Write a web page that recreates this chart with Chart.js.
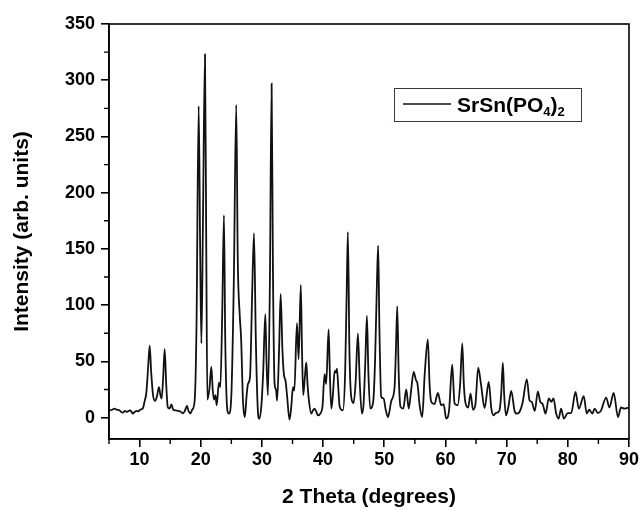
<!DOCTYPE html>
<html>
<head>
<meta charset="utf-8">
<script src="https://cdn.jsdelivr.net/npm/chart.js@4"></script>
<style>
  html, body { margin: 0; padding: 0; background: #fff; }
  #wrap { width: 641px; height: 510px; }
</style>
</head>
<body>
<div id="wrap"><canvas id="chart" width="641" height="510"></canvas></div>
<script>
// diffraction pattern
const twoTheta = [
  5.1, 5.5, 5.9, 6.3, 6.7, 7.0, 7.3, 7.6, 7.9, 8.2, 8.45, 8.7, 8.9, 9.2, 9.5, 9.8, 10.1, 10.56, 10.8, 11.1,
  11.4, 11.65, 11.9, 12.2, 12.5, 12.8, 13.17, 13.4, 13.6, 13.85, 14.1, 14.35, 14.6, 14.9, 15.2, 15.5, 15.9, 16.3, 16.7, 17.1,
  17.4, 17.75, 18.0, 18.3, 18.6, 19.0, 19.3, 19.66, 19.9, 20.1, 20.35, 20.69, 20.9, 21.08, 21.4, 21.73, 21.95, 22.16, 22.4, 22.6,
  22.97, 23.2, 23.5, 23.79, 24.0, 24.35, 24.6, 25.0, 25.4, 25.8, 26.05, 26.36, 26.6, 26.9, 27.2, 27.5, 27.72, 28.05, 28.4, 28.7,
  29.0, 29.3, 29.55, 29.9, 30.2, 30.55, 30.75, 30.98, 31.3, 31.58, 31.8, 32.07, 32.3, 32.48, 32.8, 33.06, 33.35, 33.6, 33.85, 34.1,
  34.5, 34.8, 35.07, 35.3, 35.72, 36.0, 36.35, 36.55, 36.75, 37.0, 37.25, 37.45, 37.68, 38.07, 38.3, 38.6, 38.9, 39.15, 39.6, 39.9,
  40.24, 40.5, 40.9, 41.1, 41.34, 41.6, 41.88, 42.1, 42.26, 42.5, 42.7, 43.24, 43.6, 43.85, 44.05, 44.3, 44.6, 44.97, 45.3, 45.69,
  46.0, 46.34, 46.6, 46.9, 47.16, 47.4, 47.7, 48.2, 48.5, 48.8, 49.0, 49.2, 49.5, 49.9, 50.2, 50.6, 51.15, 51.68, 51.9, 52.12,
  52.35, 52.66, 53.1, 53.59, 54.0, 54.4, 54.8, 55.2, 55.4, 55.8, 56.2, 56.6, 57.12, 57.4, 57.68, 58.2, 58.76, 59.3, 59.7, 60.12,
  60.6, 61.1, 61.49, 62.0, 62.4, 62.75, 63.0, 63.24, 63.7, 64.1, 64.5, 64.9, 65.35, 65.8, 66.4, 67.07, 67.5, 67.86, 68.2, 68.8,
  69.1, 69.38, 69.6, 69.9, 70.3, 70.75, 71.3, 71.67, 72.1, 72.6, 73.3, 73.74, 74.1, 74.6, 75.1, 75.5, 75.9, 76.35, 76.9, 77.3,
  77.66, 78.1, 78.5, 78.9, 79.35, 80.0, 80.55, 81.26, 81.8, 82.6, 83.1, 83.5, 84.0, 84.4, 84.9, 85.4, 86.27, 86.8, 87.5, 88.2,
  88.7, 89.3, 90.0
];
const intensity = [
  6.5, 7, 8, 7, 6.5, 5, 4.4, 6, 5, 6, 6.5, 5, 3.6, 5, 6, 5.5, 7, 8.6, 14, 22,
  45, 64, 40, 20, 15, 18, 27, 20, 17, 35, 61, 30, 9.5, 8, 11.8, 7, 6.5, 6, 5.5, 3.8,
  6, 10.4, 6, 3.8, 7, 15, 80, 277, 150, 66, 170, 323, 150, 16, 25, 45, 25, 16, 20, 11,
  31, 27, 90, 180, 70, 6.5, 3.6, 20, 120, 278, 140, 92, 70, 15, 0.5, 20, 30, 36, 110, 164,
  70, 10, -1, 10, 40, 92, 50, 20, 120, 297, 130, 30, 25, 15, 60, 110, 60, 38, 33, 20,
  -1.8, 10, 27, 24, 84, 52, 118, 60, 20, 35, 49, 30, 15.4, 3.6, 6, 8, 5, 2, 4, 10,
  38.6, 30, 78.4, 40, 8, 20, 41.5, 40, 43.6, 25, 10, 6.5, 40, 110, 165, 60, 18.3, 13, 30, 75,
  30, 3.6, 11, 50, 90.5, 40, 8, 15, 52, 120, 153, 80, 18.3, 17, 8, 0.5, 15, 27, 60, 99,
  40, 9.5, 8, 25, 8, 25, 40.6, 33, 31, 10, 0.5, 38, 69.5, 30, 14, 12, 22, 11, 12, -0.9,
  7, 47, 12.5, 11, 30, 66, 30, 14, 9, 21.4, 7, 12, 44.5, 30, 8.5, 31.7, 8, 2, 4, 6,
  20, 48.6, 20, 2, 10, 23.7, 6, 3.6, 5, 13, 34, 15.4, 14, 6, 23.4, 14, 12, 3.6, 17, 14,
  17, 3.6, -0.9, 8, -0.9, 4, 4, 22.8, 8, 19, 3.6, 7, 3.6, 8, 4, 6, 17.8, 9, 22, 0.5,
  9, 8, 9
];

const seriesLabel = 'SrSn(PO₄)₂';
// legend text split into normal / subscript runs
const legendParts = [['SrSn(PO', false], ['4', true], [')', false], ['2', true]];

const xTicks = [10, 20, 30, 40, 50, 60, 70, 80, 90];
const xMinorTicks = [5, 15, 25, 35, 45, 55, 65, 75, 85];
const yTicks = [0, 50, 100, 150, 200, 250, 300, 350];
const yMinorTicks = [25, 75, 125, 175, 225, 275, 325];

const fontFamily = '"Liberation Sans", Arial, sans-serif';

const framePlugin = {
  id: 'frame',
  afterDraw(chart) {
    const ctx = chart.ctx;
    const a = chart.chartArea;
    const xs = chart.scales.x, ys = chart.scales.y;
    ctx.save();
    ctx.strokeStyle = '#000';
    ctx.lineWidth = 1.6;
    ctx.strokeRect(a.left, a.top, a.right - a.left, a.bottom - a.top);

    // minor ticks
    ctx.lineWidth = 1.4;
    ctx.beginPath();
    xMinorTicks.forEach(v => {
      const px = xs.getPixelForValue(v);
      ctx.moveTo(px, a.bottom);
      ctx.lineTo(px, a.bottom + 5);
    });
    yMinorTicks.forEach(v => {
      const py = ys.getPixelForValue(v);
      ctx.moveTo(a.left, py);
      ctx.lineTo(a.left - 5, py);
    });
    ctx.stroke();

    // legend box
    const bx = 394, by = 88, bw = 187, bh = 33;
    ctx.lineWidth = 1;
    ctx.strokeStyle = '#2f3f3f';
    ctx.strokeRect(bx + 0.5, by + 0.5, bw, bh);
    ctx.strokeStyle = '#111';
    ctx.lineWidth = 1.6;
    ctx.beginPath();
    ctx.moveTo(403, 104);
    ctx.lineTo(451, 104);
    ctx.stroke();

    ctx.fillStyle = '#000';
    ctx.textBaseline = 'alphabetic';
    let tx = 457;
    legendParts.forEach(([t, sub]) => {
      ctx.font = 'bold ' + (sub ? 13 : 21) + 'px ' + fontFamily;
      ctx.fillText(t, tx, sub ? 116 : 111.5);
      tx += ctx.measureText(t).width;
    });
    ctx.restore();
  }
};

const ctx = document.getElementById('chart').getContext('2d');
const ch = new Chart(ctx, {
  type: 'line',
  data: {
    datasets: [{
      label: seriesLabel,
      data: twoTheta.map((x, i) => ({ x: x, y: intensity[i] })),
      borderColor: '#111',
      borderWidth: 1.8,
      pointRadius: 0,
      fill: false,
      cubicInterpolationMode: 'monotone'
    }]
  },
  options: {
    responsive: false,
    animation: false,
    layout: { padding: { left: 0, right: 12, top: 24, bottom: 0 } },
    plugins: {
      legend: { display: false },
      tooltip: { enabled: false }
    },
    scales: {
      x: {
        type: 'linear',
        min: 5,
        max: 90,
        afterBuildTicks: s => { s.ticks = xTicks.map(v => ({ value: v })); },
        afterFit: s => { s.height = 71; },
        grid: { drawOnChartArea: false, drawTicks: true, tickLength: 8, color: '#000', lineWidth: 1.6 },
        border: { display: true, color: '#000', width: 1.6 },
        ticks: {
          color: '#000',
          padding: 2,
          maxRotation: 0,
          font: { family: fontFamily, size: 18, weight: 'bold' }
        },
        title: {
          display: true,
          text: '2 Theta (degrees)',
          color: '#000',
          padding: { top: 0, bottom: 0 },
          font: { family: fontFamily, size: 21, weight: 'bold' }
        }
      },
      y: {
        min: -19,
        max: 350,
        afterBuildTicks: s => { s.ticks = yTicks.map(v => ({ value: v })); },
        afterFit: s => { s.width = 109; },
        grid: { drawOnChartArea: false, drawTicks: true, tickLength: 8, color: '#000', lineWidth: 1.6 },
        border: { display: true, color: '#000', width: 1.6 },
        ticks: {
          color: '#000',
          padding: 6,
          font: { family: fontFamily, size: 18, weight: 'bold' }
        },
        title: {
          display: true,
          text: 'Intensity (arb. units)',
          color: '#000',
          padding: { top: 10, bottom: 0 },
          font: { family: fontFamily, size: 21, weight: 'bold' }
        }
      }
    }
  },
  plugins: [framePlugin]
});
</script>
</body>
</html>
